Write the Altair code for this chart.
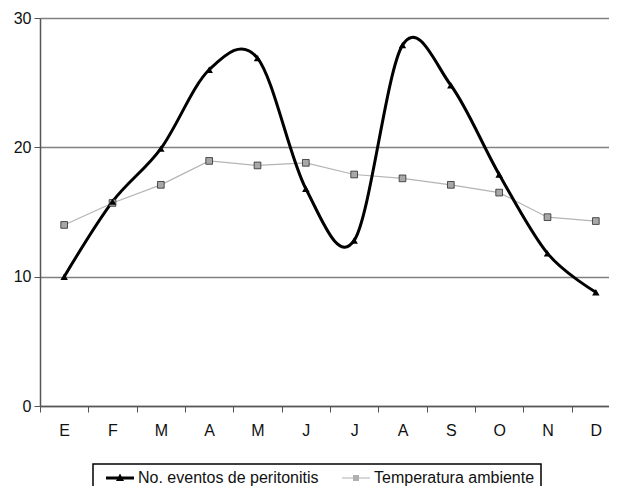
import altair as alt
import pandas as pd

meses = ["E", "F", "M", "A", "M", "J", "J", "A", "S", "O", "N", "D"]
peritonitis = [10, 15.8, 19.9, 26, 26.9, 16.8, 12.8, 27.9, 24.8, 17.9, 11.8, 8.8]
temperatura = [14.0, 15.7, 17.1, 18.95, 18.6, 18.8, 17.9, 17.6, 17.1, 16.5, 14.6, 14.3]
series = ["No. eventos de peritonitis", "Temperatura ambiente"]

df_p = pd.DataFrame({"idx": list(range(12)), "value": peritonitis, "serie": series[0]})
df_t = pd.DataFrame({"idx": list(range(12)), "value": temperatura, "serie": series[1]})
df = pd.concat([df_p, df_t], ignore_index=True)

label_expr = "[" + ",".join("'" + m + "'" for m in meses) + "][datum.value]"

x_enc = alt.X(
    "idx:O",
    scale=alt.Scale(range=[0, 580], paddingInner=0, paddingOuter=0),
    axis=alt.Axis(
        title=None, labelExpr=label_expr, labelAngle=0, tickBand="extent",
        tickSize=6, tickColor="#555", domainColor="#555", domainWidth=1.5,
        labelFontSize=16, labelPadding=10, labelColor="#111", grid=False,
    ),
)
y_enc = alt.Y(
    "value:Q",
    scale=alt.Scale(domain=[0, 30], nice=False, zero=True),
    axis=alt.Axis(
        title=None, values=[0, 10, 20, 30], tickSize=6, tickColor="#555",
        domainColor="#555", domainWidth=1.5, labelFontSize=16, labelPadding=3,
        labelColor="#111", grid=True, gridColor="#808080", gridWidth=1.6,
    ),
)

temp_line = alt.Chart(df_t).mark_line(color="#b4b4b4", strokeWidth=1.2).encode(x=x_enc, y=y_enc)
temp_pts = alt.Chart(df_t).mark_point(
    shape="square", filled=True, fill="#a8a8a8", stroke="#2a2a2a", strokeWidth=0.8, size=45, opacity=1
).encode(x=x_enc, y=y_enc)
per_line = alt.Chart(df_p).mark_line(color="black", strokeWidth=3, interpolate="cardinal").encode(x=x_enc, y=y_enc)
per_pts = alt.Chart(df_p).mark_point(
    shape="triangle-up", filled=True, color="black", size=55, opacity=1
).encode(x=x_enc, y=y_enc)

path_p = "M-2.8,-0.3L2.8,-0.3L2.8,0.3L-2.8,0.3Z M0,-0.9L0.8,0.6L-0.8,0.6Z"
path_t = "M-2.8,-0.12L2.8,-0.12L2.8,0.12L-2.8,0.12Z M-0.6,-0.6L0.6,-0.6L0.6,0.6L-0.6,0.6Z"

legend_layer = alt.Chart(df).mark_point(filled=True, opacity=1, size=100).encode(
    x=x_enc,
    y=y_enc,
    color=alt.Color("serie:N", scale=alt.Scale(domain=series, range=["black", "#b0b0b0"]),
                    legend=alt.Legend(title=None)),
    shape=alt.Shape("serie:N", scale=alt.Scale(domain=series, range=[path_p, path_t]),
                    legend=alt.Legend(title=None)),
).transform_filter("datum.value < -100")

chart = alt.layer(temp_line, per_line, temp_pts, per_pts, legend_layer).properties(
    width=569, height=388,
    padding={"left": 32, "top": 10, "right": 0, "bottom": 80},
    autosize=alt.AutoSizeParams(type="none"),
).configure_view(stroke=None).configure(
    font="Liberation Sans"
).configure_legend(
    orient="none", legendX=53, legendY=446, direction="horizontal",
    strokeColor="black", strokeWidth=1.5, padding=6, symbolSize=100,
    symbolOffset=13, labelFontSize=16, labelColor="#111", labelOffset=10,
    labelLimit=400, columnPadding=16, symbolStrokeWidth=0, fillColor="white",
)

chart.save("out.html", embed_options={"renderer": "svg", "actions": False})
